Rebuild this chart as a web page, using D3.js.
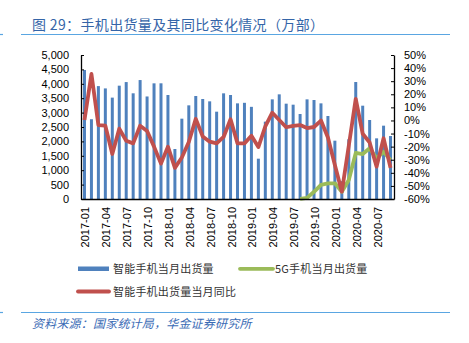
<!DOCTYPE html>
<html><head><meta charset="utf-8">
<script src="https://cdn.jsdelivr.net/npm/d3@7"></script>
<style>
body{margin:0;background:#fff;}
svg{display:block;}
</style></head>
<body>
<svg id="chart" width="469" height="343"></svg>
<script>
const categories = ["2017-01","2017-02","2017-03","2017-04","2017-05","2017-06","2017-07","2017-08","2017-09","2017-10","2017-11","2017-12",
"2018-01","2018-02","2018-03","2018-04","2018-05","2018-06","2018-07","2018-08","2018-09","2018-10","2018-11","2018-12",
"2019-01","2019-02","2019-03","2019-04","2019-05","2019-06","2019-07","2019-08","2019-09","2019-10","2019-11","2019-12",
"2020-01","2020-02","2020-03","2020-04","2020-05","2020-06","2020-07","2020-08","2020-09"];
const smartShip = [4480,2770,3920,3840,3520,3935,4060,3670,4130,3560,4016,4017,
3611,1736,2789,3252,3576,3472,3391,3032,3669,3611,3321,3340,
3200,1400,2685,3460,3634,3310,3275,2951,3460,3437,3321,2882,
2025,620,2075,4062,3240,2743,2106,2546,2187];
const fiveGShip = [null,null,null,null,null,null,null,null,null,null,null,null,
null,null,null,null,null,null,null,null,null,null,null,null,
null,null,null,null,null,null,null,5,40,250,490,540,
545,253,660,1600,1560,1759,1412,1640,1354];
const smartYoY = [0.4,35.5,-3.5,-4,-25.6,-6.3,-15.5,-17.5,-4,-8,-20,-33,
-20,-36.2,-28.3,-16.5,1.2,-12.2,-16.2,-17.5,-12.6,0.9,-17.5,-17.5,
-11.7,-20.3,-4.6,5.9,0.3,-5.2,-4.1,-3.5,-5.8,-5,-0.1,-13,
-34,-54.4,-19.3,16.5,-10.2,-16.8,-35.3,-13.6,-36.2];
const leftTicks = [0,500,1000,1500,2000,2500,3000,3500,4000,4500,5000];
const rightTicks = [-60,-50,-40,-30,-20,-10,0,10,20,30,40,50];
const xTickLabels = categories.filter((d,i)=>i%3===0);

const svg = d3.select("#chart");
const plot = {left:81, right:394, top:55, bottom:199};
const numFont = "'Liberation Sans', Arial, sans-serif";
const cjkFont = "'Noto Sans CJK SC', 'Noto Sans', sans-serif";

const x = d3.scaleBand().domain(categories).range([plot.left, plot.right]).paddingInner(0.57).paddingOuter(0.285);
const yL = d3.scaleLinear().domain([0,5000]).range([plot.bottom, plot.top]);
const yR = d3.scaleLinear().domain([-60,50]).range([plot.bottom, plot.top]);
const cx = d => x(d) + x.bandwidth()/2;

// header
svg.append("text").attr("x",32).attr("y",30)
  .attr("font-family",cjkFont).attr("font-size",14).attr("fill","#3565A8")
  .attr("letter-spacing","0.35px")
  .text("图 29：手机出货量及其同比变化情况（万部）");
svg.append("line").attr("x1",21).attr("x2",450).attr("y1",34.5).attr("y2",34.5).attr("stroke","#5AA6E2").attr("stroke-width",1.2);
svg.append("line").attr("x1",0).attr("x2",3).attr("y1",34.5).attr("y2",34.5).attr("stroke","#5AA6E2").attr("stroke-width",1.2);

// bars
svg.append("g").selectAll("rect").data(categories).join("rect")
  .attr("x",d=>x(d)).attr("width",x.bandwidth())
  .attr("y",(d,i)=>yL(smartShip[i])).attr("height",(d,i)=>plot.bottom-yL(smartShip[i]))
  .attr("fill","#4F81BD");

// lines
const lineL = d3.line().defined(d=>d.v!=null).x(d=>cx(d.c)).y(d=>yL(d.v));
const lineR = d3.line().x(d=>cx(d.c)).y(d=>yR(d.v));
svg.append("path").datum(categories.map((c,i)=>({c,v:fiveGShip[i]})))
  .attr("d",lineL).attr("fill","none").attr("stroke","#9BBB59").attr("stroke-width",3.8).attr("stroke-linejoin","round");
svg.append("path").datum(categories.map((c,i)=>({c,v:smartYoY[i]})))
  .attr("d",lineR).attr("fill","none").attr("stroke","#C0504D").attr("stroke-width",3.8).attr("stroke-linejoin","round");

// axes
const gL = svg.append("g").attr("transform",`translate(${plot.left},0)`)
  .call(d3.axisLeft(yL).tickValues(leftTicks).tickFormat(d3.format(",")).tickSizeInner(-3).tickSizeOuter(0).tickPadding(12));
const gR = svg.append("g").attr("transform",`translate(${plot.right},0)`)
  .call(d3.axisRight(yR).tickValues(rightTicks).tickFormat(d=>d+"%").tickSizeInner(-3).tickSizeOuter(0).tickPadding(10));
const gX = svg.append("g").attr("transform",`translate(0,${plot.bottom})`)
  .call(d3.axisBottom(x).tickValues(xTickLabels).tickSize(0).tickPadding(0));
[gL,gR,gX].forEach(g=>{
  g.selectAll("path.domain").attr("stroke","#000").attr("stroke-width",1.3);
  g.selectAll(".tick line").attr("stroke","#000");
  g.selectAll("text").attr("font-family",numFont).attr("font-size",11).attr("fill","#000");
});
gX.selectAll("text").attr("transform","rotate(-90)").attr("text-anchor","end")
  .attr("x",-8).attr("y",1).attr("dy","0.36em");

// legend
const lg = svg.append("g").attr("font-family",cjkFont).attr("font-size",11).attr("fill","#333");
lg.append("rect").attr("x",78).attr("y",266.5).attr("width",31).attr("height",4.5).attr("fill","#4F81BD");
lg.append("text").attr("x",113).attr("y",273).attr("letter-spacing","0.2px").text("智能手机当月出货量");
lg.append("line").attr("x1",240).attr("x2",273).attr("y1",268.8).attr("y2",268.8).attr("stroke","#9BBB59").attr("stroke-width",3.8).attr("stroke-linecap","round");
lg.append("text").attr("x",275).attr("y",273).attr("letter-spacing","0.2px").text("5G手机当月出货量");
lg.append("line").attr("x1",78).attr("x2",109).attr("y1",291.5).attr("y2",291.5).attr("stroke","#C0504D").attr("stroke-width",3.8).attr("stroke-linecap","round");
lg.append("text").attr("x",113).attr("y",295.5).attr("letter-spacing","0.2px").text("智能手机出货量当月同比");

// footer
svg.append("line").attr("x1",21).attr("x2",450).attr("y1",312.5).attr("y2",312.5).attr("stroke","#5AA6E2").attr("stroke-width",1.2);
svg.append("line").attr("x1",0).attr("x2",3).attr("y1",312.5).attr("y2",312.5).attr("stroke","#5AA6E2").attr("stroke-width",1.2);
svg.append("text").attr("x",32).attr("y",328).attr("font-family",cjkFont).attr("font-size",12)
  .attr("font-style","italic").attr("fill","#3A6BB5").attr("letter-spacing","0.2px")
  .text("资料来源：国家统计局，华金证券研究所");
</script>
</body></html>
